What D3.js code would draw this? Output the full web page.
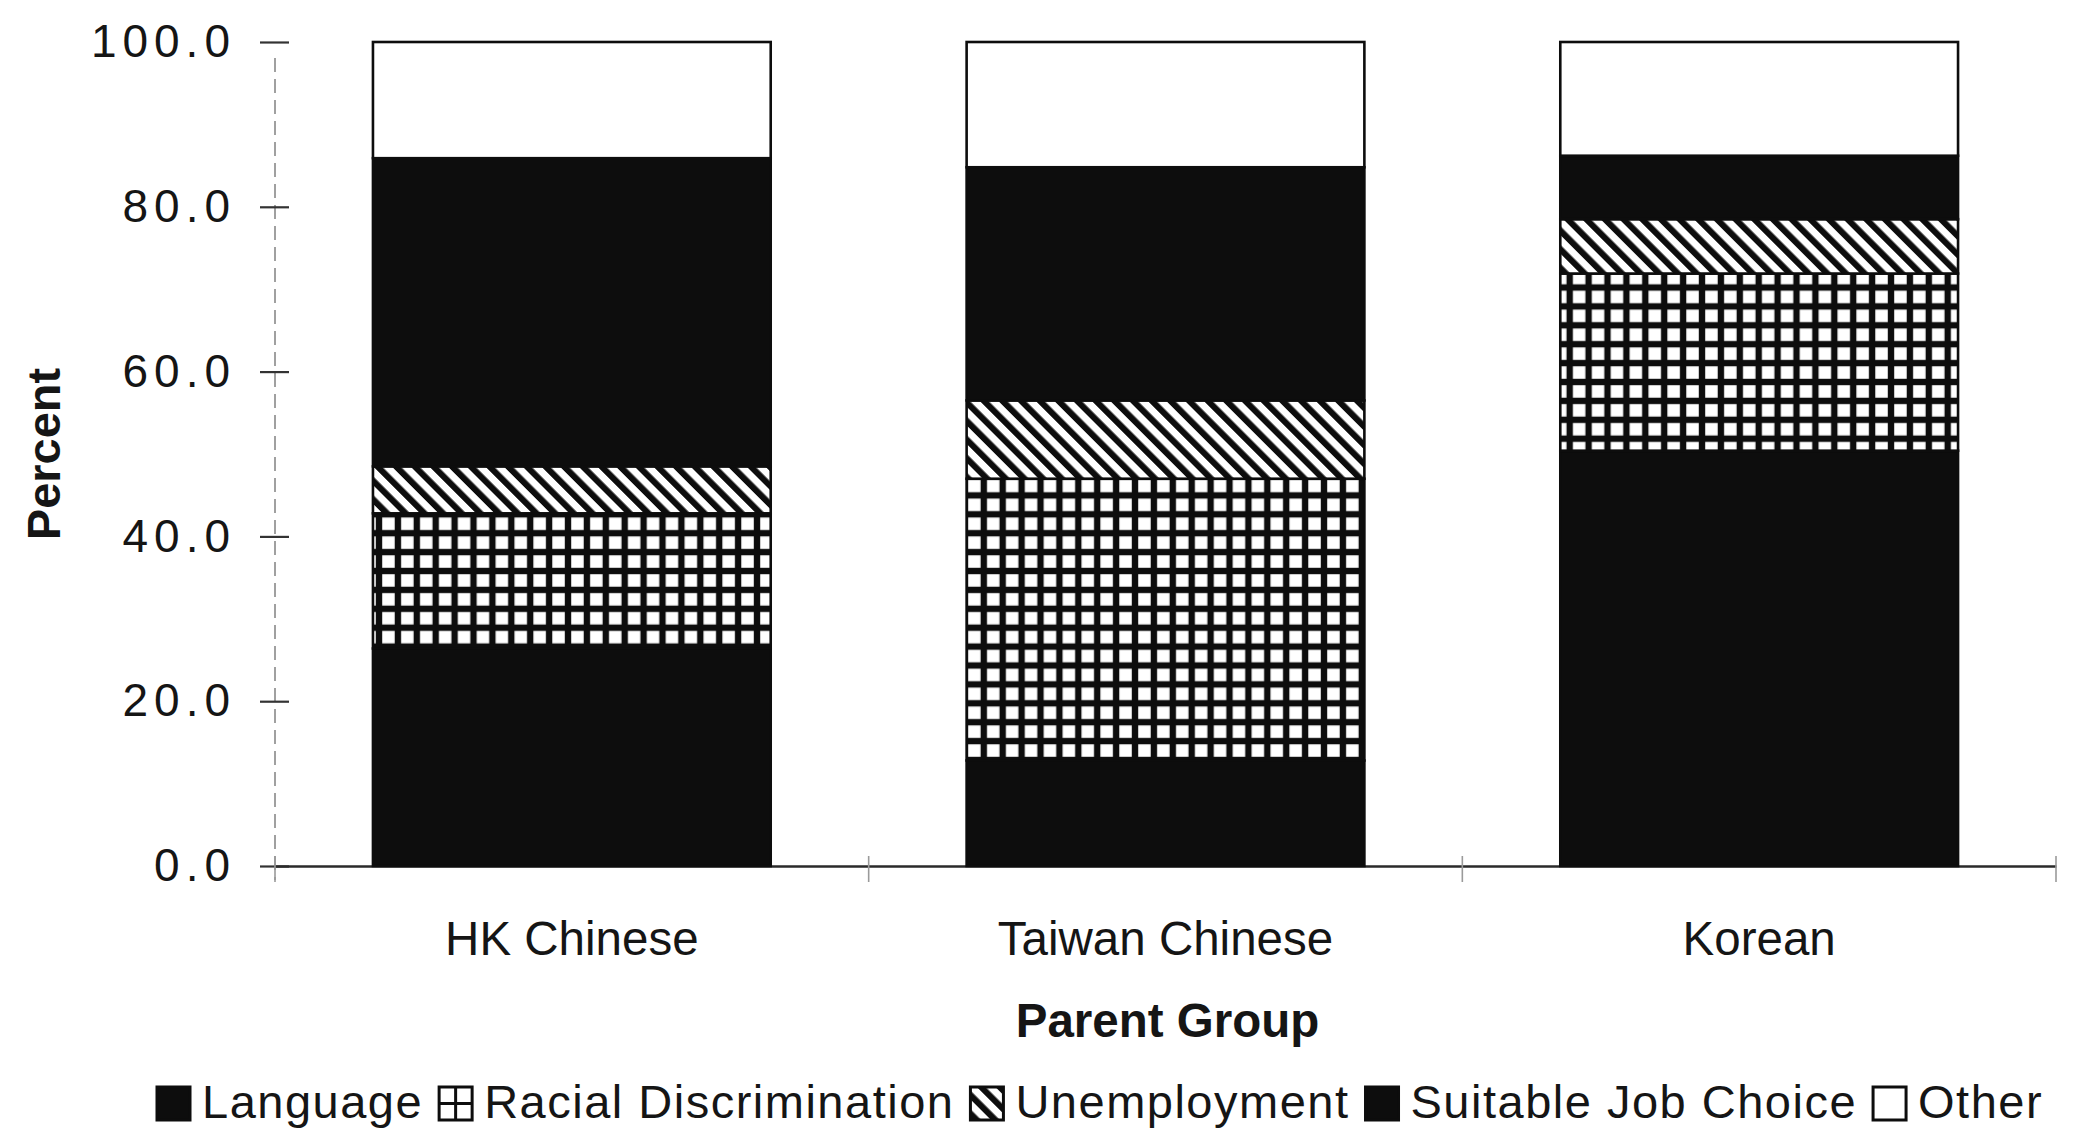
<!DOCTYPE html>
<meta charset="utf-8">
<script src="https://d3js.org/d3.v7.min.js"></script>
<style>
  body { margin: 0; background: #fff; }
  text { font-family: "Liberation Sans", Arial, sans-serif; fill: #151515; }
</style>
<div id="chart"></div>
<script>

// categories and series (percent of each parent group)
var groups = ["HK Chinese", "Taiwan Chinese", "Korean"];
var reasons = ["Language", "Racial Discrimination", "Unemployment", "Suitable Job Choice", "Other"];
var language     = [26.4, 12.8, 50.4];
var racial       = [16.4, 34.2, 21.5];
var unemployment = [5.7, 9.5, 6.6];
var suitableJob  = [37.4, 28.3, 7.7];
var other        = [14.1, 15.2, 13.8];
var yTicks = [0, 20, 40, 60, 80, 100];

var width = 2073, height = 1131;
var ink = "#0d0d0d";

// build rows for d3.stack
var series = [language, racial, unemployment, suitableJob, other];
var rows = groups.map(function(g, i) {
  var r = {group: g};
  reasons.forEach(function(k, j) { r[k] = series[j][i]; });
  return r;
});

var svg = d3.select("#chart").append("svg")
  .attr("width", width)
  .attr("height", height);

// fill patterns
var defs = svg.append("defs");
var grid = defs.append("pattern")
  .attr("id", "grid")
  .attr("patternUnits", "userSpaceOnUse")
  .attr("width", 18.9).attr("height", 18.9)
  .attr("x", 1).attr("y", 4);
grid.append("rect").attr("width", 18.9).attr("height", 18.9).attr("fill", ink);
grid.append("rect").attr("x", 3.2).attr("y", 3.2).attr("width", 12.5).attr("height", 12.5).attr("fill", "#fff");

var hatch = defs.append("pattern")
  .attr("id", "hatch")
  .attr("patternUnits", "userSpaceOnUse")
  .attr("width", 13.2).attr("height", 13.2)
  .attr("patternTransform", "rotate(-45)");
hatch.append("rect").attr("width", 13.2).attr("height", 13.2).attr("fill", "#fff");
hatch.append("rect").attr("width", 6.2).attr("height", 13.2).attr("fill", ink);

var fills = {
  "Language": ink,
  "Racial Discrimination": "url(#grid)",
  "Unemployment": "url(#hatch)",
  "Suitable Job Choice": ink,
  "Other": "#fff"
};

// scales
var x = d3.scaleBand()
  .domain(groups)
  .range([275, 2056])
  .paddingInner(0.33)
  .paddingOuter(0.165);

var y = d3.scaleLinear()
  .domain([0, 100])
  .range([866, 42]);

// Y axis
var yAxis = svg.append("g")
  .attr("transform", "translate(275,0)")
  .call(d3.axisLeft(y)
    .tickValues(yTicks)
    .tickFormat(d3.format(".1f"))
    .tickSize(15)
    .tickSizeOuter(0)
    .tickPadding(24));
yAxis.select(".domain")
  .attr("d", "M0," + (y(100) + 16) + "V" + (y(0) + 14))
  .attr("stroke", "#a0a0a0")
  .attr("stroke-width", 2)
  .attr("stroke-dasharray", "14,7");
yAxis.selectAll(".tick line")
  .attr("x2", 14)
  .attr("x1", -15)
  .attr("stroke", "#333")
  .attr("stroke-width", 2.2);
yAxis.selectAll(".tick text")
  .style("font-size", "46px")
  .style("letter-spacing", "6px")
  .attr("fill", "#151515");

// X axis
var xAxis = svg.append("g")
  .attr("transform", "translate(0," + y(0) + ")")
  .call(d3.axisBottom(x).tickSize(0).tickSizeOuter(0).tickPadding(55));
xAxis.select(".domain")
  .attr("stroke", "#2a2a2a")
  .attr("stroke-width", 2.4);
xAxis.selectAll(".tick text")
  .style("font-size", "47.5px")
  .attr("fill", "#151515");

// small marks between the groups
svg.append("g").selectAll("line")
  .data(d3.range(groups.length + 1))
  .join("line")
    .attr("x1", function(i) { return x.range()[0] + i * x.step(); })
    .attr("x2", function(i) { return x.range()[0] + i * x.step(); })
    .attr("y1", y(0) - 10)
    .attr("y2", y(0) + 16)
    .attr("stroke", "#9a9a9a")
    .attr("stroke-width", 1.6);

// stacked bars
var stacked = d3.stack().keys(reasons)(rows);
svg.append("g").selectAll("g")
  .data(stacked)
  .join("g")
    .attr("fill", function(d) { return fills[d.key]; })
  .selectAll("rect")
  .data(function(d) { return d; })
  .join("rect")
    .attr("x", function(d) { return x(d.data.group); })
    .attr("y", function(d) { return y(d[1]); })
    .attr("width", x.bandwidth())
    .attr("height", function(d) { return y(d[0]) - y(d[1]); })
    .attr("stroke", ink)
    .attr("stroke-width", 2.6);

// axis titles
svg.append("text")
  .attr("transform", "translate(60," + (y(0) + y(100)) / 2 + ") rotate(-90)")
  .attr("text-anchor", "middle")
  .style("font-size", "47px")
  .style("font-weight", "bold")
  .text("Percent");

svg.append("text")
  .attr("x", (x.range()[0] + x.range()[1]) / 2 + 2)
  .attr("y", 1037)
  .attr("text-anchor", "middle")
  .style("font-size", "47.5px")
  .style("font-weight", "bold")
  .text("Parent Group");

// legend
var legend = svg.append("g").attr("transform", "translate(157,1118)");
var lx = 0;
reasons.forEach(function(k) {
  var item = legend.append("g").attr("transform", "translate(" + lx + ",0)");
  var box = item.append("rect")
    .attr("x", 0).attr("y", -31)
    .attr("width", 33).attr("height", 33)
    .attr("fill", fills[k])
    .attr("stroke", ink)
    .attr("stroke-width", 3);
  if (k === "Racial Discrimination") {
    box.attr("fill", "#fff");
    item.append("path")
      .attr("d", "M16.5,-31V2M0,-14.5H33")
      .attr("stroke", ink).attr("stroke-width", 3);
  }
  var t = item.append("text")
    .attr("x", 45)
    .style("font-size", "47px")
    .style("letter-spacing", "1.5px")
    .text(k);
  lx += 45 + t.node().getComputedTextLength() + 16;
});

</script>
